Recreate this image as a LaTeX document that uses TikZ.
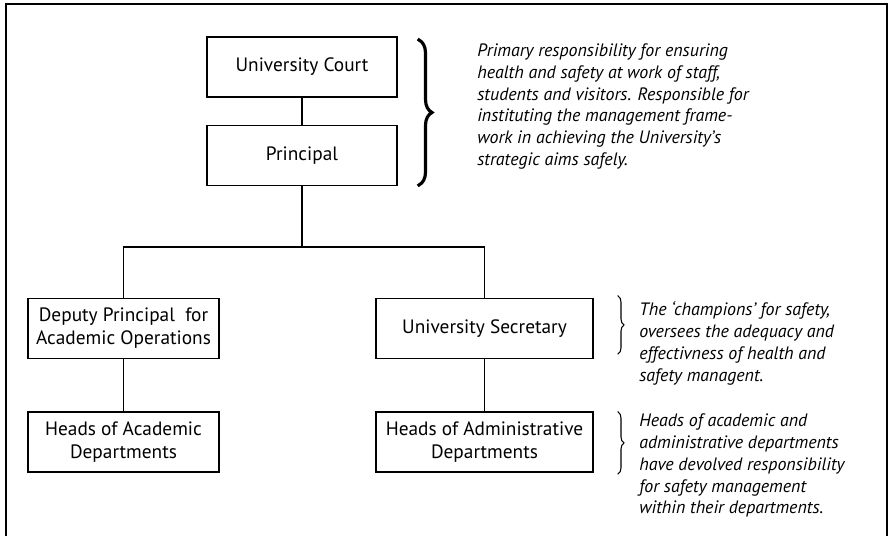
\documentclass[tikz,border=0pt]{standalone}
\usepackage{fontspec}
\setmainfont{PT Sans}
\usepackage{tikz}
\usetikzlibrary{decorations.pathreplacing}

\begin{document}
\begin{tikzpicture}[font=\fontsize{11}{13}\selectfont,line cap=rect,
  unit/.style={draw,line width=0.8pt,minimum height=1.2cm,align=center,inner sep=2pt},
  remark/.style={anchor=north west,align=left,inner sep=0pt,font=\fontsize{10.2}{12.5}\selectfont\itshape},
  bigbrace/.style={decorate,decoration={brace,amplitude=0.26cm},line width=1.8pt},
  smallbrace/.style={decorate,decoration={brace,amplitude=0.12cm},line width=0.6pt}]
\useasboundingbox (0,0) rectangle (17.86,10.72);
\draw[line width=1.2pt] (0.12,-0.2) -- (0.12,10.64) -- (17.74,10.64) -- (17.74,-0.2);
\node[unit,minimum width=3.8cm] (court) at (6.04,9.38) {University Court};
\node[unit,minimum width=3.8cm] (principal) at (6.04,7.61) {Principal};
\node[unit,minimum width=3.82cm] (deputy) at (2.47,4.15) {Deputy Principal\ \ for\\Academic Operations};
\node[unit,minimum width=4.34cm] (secretary) at (9.69,4.15) {University Secretary};
\node[unit,minimum width=3.82cm] (headsacad) at (2.47,1.88) {Heads of Academic\\Departments};
\node[unit,minimum width=4.34cm] (headsadmin) at (9.69,1.88) {Heads of Administrative\\Departments};
\coordinate (split) at (principal.south |- 0,5.78);
\draw[line width=0.7pt] (court) -- (principal);
\draw[line width=0.7pt] (principal) -- (split);
\draw[line width=0.7pt] (deputy.north) |- (split) -| (secretary.north);
\draw[line width=0.7pt] (deputy) -- (headsacad);
\draw[line width=0.7pt] (secretary) -- (headsadmin);
\draw[bigbrace] (8.38,9.92) -- (8.38,7.02);
\draw[smallbrace] (12.36,4.8) -- (12.36,3.64);
\draw[smallbrace] (12.36,2.48) -- (12.36,1.24);
\node[remark] (courtnote) at (9.54,9.86) {Primary responsibility for ensuring\\health and safety at work of staff,\\students and visitors. Responsible for\\instituting the management frame-\\work in achieving the University’s\\strategic aims safely.};
\node[remark] (secnote) at (12.78,4.70) {The ‘champions’ for safety,\\oversees the adequacy and\\effectivness of health and\\safety managent.};
\node[remark] (headsnote) at (12.78,2.46) {Heads of academic and\\administrative departments\\have devolved responsibility\\for safety management\\within their departments.};
\end{tikzpicture}
\end{document}
